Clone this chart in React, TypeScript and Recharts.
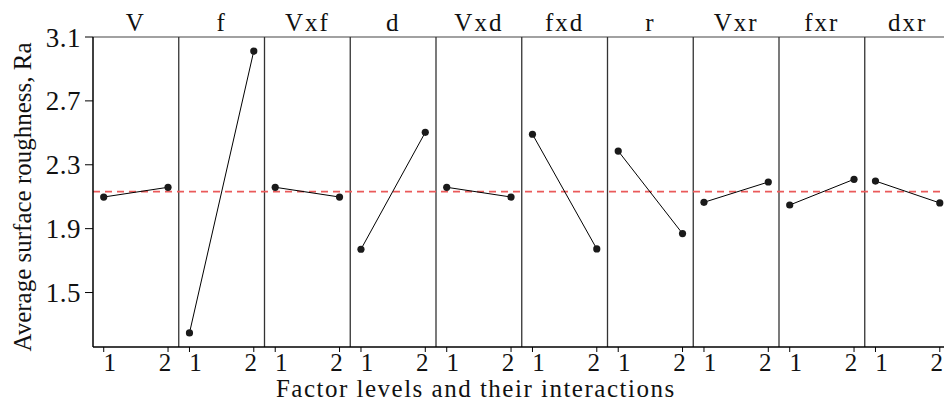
import React from 'react';
import {
    ScatterChart,
    Scatter,
    XAxis,
    YAxis,
    ReferenceLine,
    Label,
} from 'recharts';

// factor names (panel titles) and mean Ra at level 1 / level 2
const factors = ['V', 'f', 'Vxf', 'd', 'Vxd', 'fxd', 'r', 'Vxr', 'fxr', 'dxr'];
const level1Means = [2.098, 1.247, 2.159, 1.771, 2.159, 2.491, 2.386, 2.065, 2.048, 2.198];
const level2Means = [2.159, 3.012, 2.098, 2.503, 2.098, 1.773, 1.869, 2.192, 2.209, 2.061];
const levelLabels = ['1', '2'];
const grandMean = 2.132;
const yTicks = [1.5, 1.9, 2.3, 2.7, 3.1];

// each panel is 4/3 units wide on a shared numeric x axis, levels sit 1 unit apart
const PANEL = 4 / 3;
const PAD = 1 / 6;
const levelX = (panel: number, level: number) => panel * PANEL + PAD + level;

const panels = factors.map((name, i) => ({
    name,
    points: [
        { x: levelX(i, 0), y: level1Means[i] },
        { x: levelX(i, 1), y: level2Means[i] },
    ],
}));

const bottomTicks = factors.flatMap((_, i) => [levelX(i, 0), levelX(i, 1)]);
const separators = factors.slice(1).map((_, i) => (i + 1) * PANEL);

const FONT = '"Liberation Serif", "Times New Roman", serif';

const LevelTick = ({ x, y, index }: any) => {
    const lvl = index % 2;
    return (
        <text
            x={x + (lvl === 0 ? 6 : -3)}
            y={y}
            dy={17}
            textAnchor="middle"
            fontFamily={FONT}
            fontSize={25}
            fill="#111"
        >
            {levelLabels[lvl]}
        </text>
    );
};

const Dot = ({ cx, cy }: any) => <circle cx={cx} cy={cy} r={3.6} fill="#1a1a1a" />;

export default function App() {
    return (
        <div style={{ position: 'fixed', left: 0, top: 0, width: 944, height: 401, overflow: 'hidden', background: '#fff' }}>
            <ScatterChart width={952} height={401} margin={{ top: 37, right: 1.5, left: 0, bottom: 0 }}>
                <XAxis
                    xAxisId="bottom"
                    type="number"
                    dataKey="x"
                    domain={[0, PANEL * factors.length]}
                    ticks={bottomTicks}
                    interval={0}
                    height={54}
                    axisLine={{ stroke: '#000', strokeWidth: 1.5 }}
                    tickLine={{ stroke: '#000' }}
                    tickSize={5}
                    tick={<LevelTick />}
                >
                    <Label
                        value="Factor levels and their interactions"
                        position="insideBottom"
                        offset={4}
                        dx={-46}
                        style={{ fill: '#111', fontSize: 25, fontFamily: FONT, letterSpacing: 1.5 }}
                    />
                </XAxis>
                <YAxis
                    type="number"
                    dataKey="y"
                    domain={[1.159, 3.1]}
                    ticks={yTicks}
                    width={93}
                    axisLine={{ stroke: '#000', strokeWidth: 1.5 }}
                    tickLine={{ stroke: '#000' }}
                    tickSize={8}
                    tickMargin={4}
                    tickFormatter={(v: number) => v.toFixed(1)}
                    tick={{ fill: '#111', fontSize: 27, fontFamily: FONT, letterSpacing: 0.5 }}
                >
                    <Label
                        value="Average surface roughness, Ra"
                        position="center"
                        angle={-90}
                        dx={-24}
                        dy={5}
                        style={{ fill: '#111', fontSize: 25, fontFamily: FONT, textAnchor: 'middle' }}
                    />
                </YAxis>
                <ReferenceLine xAxisId="bottom" y={3.1} stroke="#444" strokeWidth={1.2} />
                {separators.map((x) => (
                    <ReferenceLine key={x} xAxisId="bottom" x={x} stroke="#333" strokeWidth={1.3} />
                ))}
                {factors.map((name, i) => (
                    <ReferenceLine
                        key={'t' + name}
                        xAxisId="bottom"
                        x={i * PANEL + PANEL / 2}
                        stroke="none"
                        label={{
                            value: name,
                            position: 'top',
                            offset: 6,
                            style: { fill: '#111', fontSize: 25, fontFamily: FONT, letterSpacing: 2 },
                        }}
                    />
                ))}
                <ReferenceLine xAxisId="bottom" y={grandMean} stroke="#ea5a5a" strokeWidth={1.6} strokeDasharray="7 5" />
                {panels.map((p) => (
                    <Scatter
                        key={p.name}
                        name={p.name}
                        xAxisId="bottom"
                        data={p.points}
                        fill="#1a1a1a"
                        line={{ stroke: '#000', strokeWidth: 1 }}
                        shape={<Dot />}
                        isAnimationActive={false}
                    />
                ))}
            </ScatterChart>
        </div>
    );
}
